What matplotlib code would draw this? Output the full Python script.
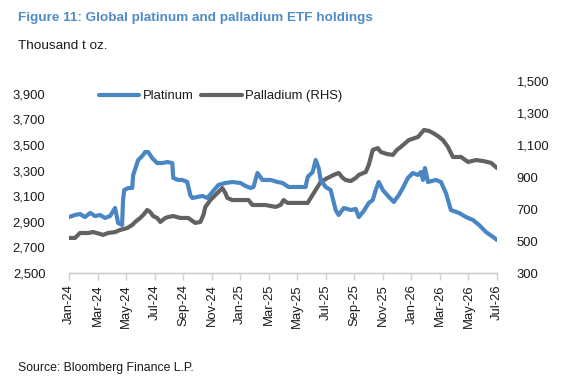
import matplotlib
matplotlib.use("Agg")
import matplotlib.pyplot as plt

plt.rcParams['font.family'] = ['Liberation Sans', 'DejaVu Sans']

# ---- data (months since Jan-2024) ----
plat_months = [0.00, 0.42, 0.77, 1.12, 1.48, 1.83, 2.18, 2.53, 2.88, 3.23, 3.44, 3.72, 3.79, 3.87,
               4.15, 4.43, 4.50, 4.85, 5.13, 5.34, 5.55, 5.83, 6.18, 6.54, 6.89, 7.24, 7.31, 7.66,
               7.94, 8.29, 8.50, 8.64, 9.00, 9.35, 9.70, 10.05, 10.47, 10.96, 11.45, 12.02, 12.37,
               12.72, 12.93, 13.21, 13.56, 14.13, 14.62, 14.97, 15.39, 15.88, 16.58, 16.73, 17.08,
               17.29, 17.50, 17.64, 17.99, 18.34, 18.69, 18.90, 19.26, 19.75, 20.10, 20.31, 20.66,
               21.01, 21.29, 21.50, 21.71, 22.00, 22.42, 22.77, 23.12, 23.40, 23.75, 24.10, 24.46,
               24.67, 24.81, 24.95, 25.16, 25.72, 26.07, 26.42, 26.77, 27.34, 27.83, 28.32, 28.74,
               29.23, 29.73, 30.00]
plat_values = [2937, 2953, 2961, 2937, 2969, 2945, 2953, 2930, 2945, 3008, 2891, 2875, 3070, 3148,
               3164, 3164, 3266, 3383, 3414, 3445, 3445, 3398, 3359, 3359, 3367, 3359, 3242, 3227,
               3227, 3211, 3109, 3086, 3094, 3102, 3086, 3133, 3188, 3203, 3211, 3203, 3180,
               3164, 3172, 3281, 3227, 3227, 3211, 3203, 3172, 3172, 3172, 3250, 3289,
               3383, 3320, 3227, 3172, 3148, 2992, 2953, 3008, 2992, 3000, 2937, 2984,
               3047, 3070, 3148, 3211, 3148, 3094, 3055, 3109, 3164, 3242, 3281, 3266,
               3289, 3227, 3320, 3211, 3227, 3211, 3125, 2992, 2969, 2937, 2914, 2875,
               2820, 2781, 2758]

pall_months = [0.00, 0.42, 0.77, 1.34, 1.69, 2.18, 2.39, 2.74, 3.23, 3.58, 4.08, 4.43, 4.64, 4.99,
               5.27, 5.48, 5.69, 5.90, 6.18, 6.40, 6.75, 6.96, 7.31, 7.80, 8.36, 8.85, 9.21, 9.42,
               9.56, 9.91, 10.12, 10.47, 10.75, 10.96, 11.10, 11.45, 12.02, 12.58, 12.86, 13.28,
               13.77, 14.13, 14.48, 14.83, 15.04, 15.32, 15.88, 16.73, 16.94, 17.29, 17.64, 18.13,
               18.55, 18.90, 19.19, 19.40, 19.75, 20.10, 20.31, 20.80, 21.01, 21.29, 21.64, 21.86,
               22.28, 22.70, 22.98, 23.26, 23.82, 24.46, 24.88, 25.23, 25.51, 25.86, 26.21, 26.56,
               26.91, 27.48, 27.97, 28.53, 29.02, 29.59, 30.00]
pall_values = [519, 519, 550, 550, 556, 544, 538, 550, 556, 569, 581, 600, 619, 644,
               669, 694, 681, 656, 644, 619, 644, 650, 656, 644, 644, 613, 619, 663,
               713, 756, 775, 806, 831, 800, 769, 756, 756, 756, 725, 725,
               725, 719, 713, 725, 756, 738, 738, 738, 769, 819, 869, 894,
               913, 925, 894, 881, 875, 894, 913, 931, 975, 1069, 1081, 1056,
               1044, 1038, 1069, 1088, 1131, 1150, 1194, 1188, 1175, 1156, 1131, 1088,
               1025, 1025, 994, 1006, 1000, 988, 956]

tick_months = list(range(0, 31, 2))
tick_labels = ['Jan-24', 'Mar-24', 'May-24', 'Jul-24', 'Sep-24', 'Nov-24', 'Jan-25', 'Mar-25',
               'May-25', 'Jul-25', 'Sep-25', 'Nov-25', 'Jan-26', 'Mar-26', 'May-26', 'Jul-26']
left_ticks = [2500, 2700, 2900, 3100, 3300, 3500, 3700, 3900]
right_ticks = [300, 500, 700, 900, 1100, 1300, 1500]

BLUE = '#4A86C4'
GRAY = '#626262'
TXT = '#1a1a1a'
FS = 9.4

fig = plt.figure(figsize=(5.69, 3.88), dpi=100)
ax = fig.add_axes([69/569, 1-273/388, (497-69)/569, (273-81)/388])
ax2 = ax.twinx()

lp, = ax.plot(plat_months, plat_values, color=BLUE, lw=3.0, solid_capstyle='round',
              solid_joinstyle='round', label='Platinum')
lg, = ax2.plot(pall_months, pall_values, color=GRAY, lw=3.0, solid_capstyle='round',
               solid_joinstyle='round', label='Palladium (RHS)')
ax.set_zorder(ax2.get_zorder() + 1)
ax.patch.set_visible(False)

ax.set_xlim(0, 30)
ax.set_ylim(2500, 4000)
ax2.set_ylim(300, 1500)
ax.set_yticks(left_ticks)
ax.set_yticklabels([f'{v:,}' for v in left_ticks])
ax2.set_yticks(right_ticks)
ax2.set_yticklabels([f'{v:,}' for v in right_ticks])
ax.set_xticks(tick_months)
ax.set_xticklabels(tick_labels, rotation=90)

for a in (ax, ax2):
    for s in ('top', 'left', 'right'):
        a.spines[s].set_visible(False)
    a.spines['bottom'].set_color('#d0d0d0')
    a.spines['bottom'].set_linewidth(1.0)

ax.tick_params(axis='y', length=0, pad=17, labelsize=FS, labelcolor=TXT)
ax2.tick_params(axis='y', length=0, pad=14, labelsize=FS, labelcolor=TXT)
ax.tick_params(axis='x', length=5, width=1.0, color='#d0d0d0', direction='out', pad=3,
               labelsize=FS, labelcolor=TXT)

leg = fig.legend(handles=[lp, lg], loc='center left', bbox_to_anchor=(99/569, 1-96/388),
                 ncol=2, frameon=False, fontsize=FS, handlelength=3.1, handletextpad=0.25,
                 columnspacing=0.6, borderaxespad=0, borderpad=0)
for t in leg.get_texts():
    t.set_color(TXT)

fig.text(18/569, 1-18/388, 'Figure 11: Global platinum and palladium ETF holdings',
         color='#4F8BC9', fontsize=9.7, fontweight='bold', va='center', ha='left')
fig.text(18/569, 1-46/388, 'Thousand t oz.', color=TXT, fontsize=9.7, va='center', ha='left')
fig.text(18/569, 1-368/388, 'Source: Bloomberg Finance L.P.', color=TXT, fontsize=8.8,
         va='center', ha='left')

fig.savefig('out.png', dpi=100)
